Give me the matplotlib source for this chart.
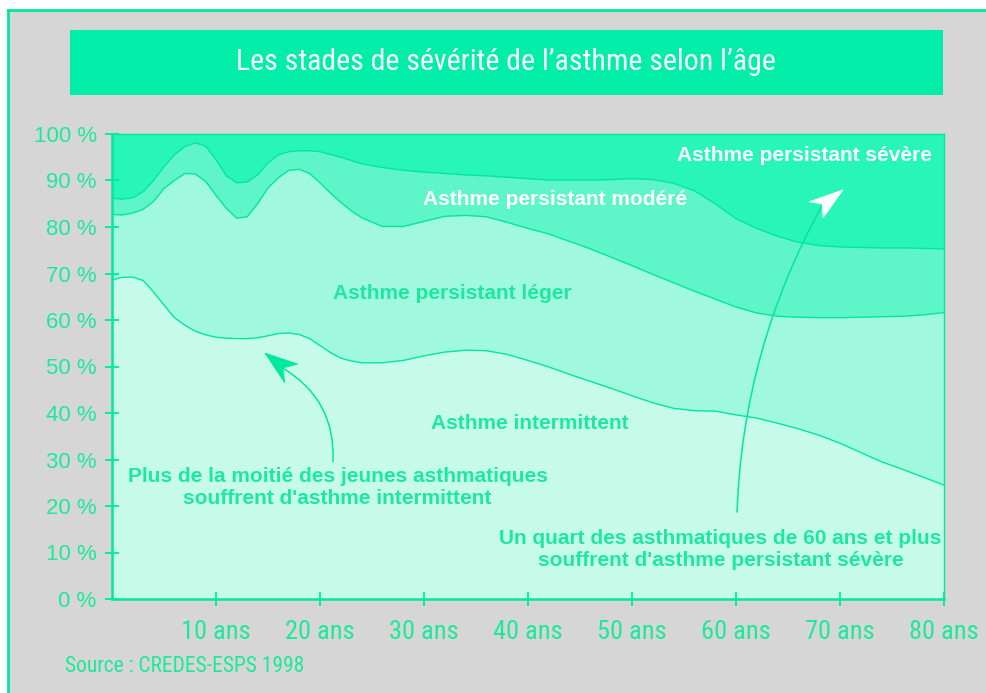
import matplotlib
matplotlib.use('Agg')
import matplotlib.pyplot as plt
import matplotlib.transforms as mtransforms
from matplotlib.patches import Rectangle, FancyArrowPatch, Polygon
from matplotlib.lines import Line2D
from matplotlib import font_manager
import numpy as np

# ---------------- data ----------------
ages = list(range(0, 25, 1)) + list(range(26, 81, 2))
# cumulative upper boundary of each stage (%)
intermittent_top = [68.6, 69.2, 69.2, 68.5, 66.0, 63.2, 60.5, 58.9, 57.6, 56.8,
                    56.3, 56.1, 56.0, 56.0, 56.2, 56.6, 57.1, 57.2, 56.9, 56.0,
                    54.5, 53.0, 51.8, 51.2, 50.8,
                    50.8, 51.3, 52.3, 53.1, 53.5, 53.4, 52.6, 51.3, 49.9, 48.3,
                    46.8, 45.3, 43.7, 42.2, 41.0, 40.5, 40.4, 39.6, 38.9, 37.8,
                    36.6, 35.2, 33.5, 31.5, 29.5, 27.9, 26.2, 24.5]
leger_top = [82.7, 82.6, 83.0, 83.8, 85.5, 88.3, 90.0, 91.5, 91.4, 89.8,
             86.8, 84.0, 81.9, 82.2, 85.0, 88.4, 90.6, 92.2, 92.4, 91.5,
             89.5, 87.3, 85.3, 83.5, 82.0,
             80.1, 80.1, 81.2, 82.3, 82.5, 82.2, 81.0, 79.7, 78.5, 76.9,
             75.3, 73.5, 71.7, 69.8, 68.0, 66.2, 64.5, 62.8, 61.5, 60.8,
             60.6, 60.5, 60.5, 60.6, 60.7, 60.8, 61.1, 61.6]
modere_top = [86.2, 86.0, 86.3, 87.6, 90.0, 93.0, 95.5, 97.3, 98.1, 97.4,
              94.5, 91.0, 89.5, 89.7, 91.2, 93.8, 95.5, 96.2, 96.4, 96.4,
              96.2, 95.6, 95.0, 94.3, 93.6,
              92.8, 92.2, 91.8, 91.5, 91.2, 91.0, 90.7, 90.4, 90.1, 90.1,
              90.1, 90.2, 90.4, 90.2, 89.4, 87.8, 85.0, 81.8, 79.7, 78.0,
              76.7, 76.0, 75.7, 75.6, 75.5, 75.5, 75.4, 75.3]
severe_top = [100.0] * len(ages)

stage_names = ["Asthme intermittent", "Asthme persistant léger",
               "Asthme persistant modéré", "Asthme persistant sévère"]
x_ticks = [10, 20, 30, 40, 50, 60, 70, 80]
x_labels = ["10 ans", "20 ans", "30 ans", "40 ans", "50 ans", "60 ans", "70 ans", "80 ans"]
y_ticks = [0, 10, 20, 30, 40, 50, 60, 70, 80, 90, 100]
y_labels = ["0 %", "10 %", "20 %", "30 %", "40 %", "50 %", "60 %", "70 %", "80 %", "90 %", "100 %"]
title = "Les stades de sévérité de l’asthme selon l’âge"
source = "Source : CREDES-ESPS 1998"
note_young = "Plus de la moitié des jeunes asthmatiques\nsouffrent d'asthme intermittent"
note_old = "Un quart des asthmatiques de 60 ans et plus\nsouffrent d'asthme persistant sévère"

# ---------------- style ----------------
GREEN = '#00E89E'
TEXT_GREEN = '#1DE8A0'
GRAY = '#D6D6D6'
BAND_COLORS = ['#C6FBEA', '#A0F8DE', '#5EF5C8', '#28F5B8']
TITLE_BOX = '#00EEA8'


def pick(names):
    for n in names:
        try:
            font_manager.findfont(font_manager.FontProperties(family=n), fallback_to_default=False)
            return n
        except Exception:
            continue
    return 'DejaVu Sans'

NARROW = pick(['Liberation Sans Narrow', 'Roboto Condensed', 'Open Sans Condensed', 'Liberation Sans'])
ARIAL = pick(['Liberation Sans', 'Arial', 'DejaVu Sans'])

W, H = 987, 693
fig = plt.figure(figsize=(W / 100, H / 100), dpi=100)
fig.patch.set_facecolor('white')

def fx(px):
    return px / W

def fy(py):
    return 1 - py / H

# gray panel with green border lines
fig.add_artist(Rectangle((fx(8), 0), 1, fy(10), transform=fig.transFigure,
                         facecolor=GRAY, edgecolor='none', zorder=0))
fig.add_artist(Line2D([fx(8), 1], [fy(10), fy(10)], transform=fig.transFigure,
                      color=GREEN, lw=2.0, zorder=1))
fig.add_artist(Line2D([fx(8), fx(8)], [0, fy(10)], transform=fig.transFigure,
                      color=GREEN, lw=2.0, zorder=1))
# title box
fig.add_artist(Rectangle((fx(70), fy(95)), fx(943) - fx(70), fy(30) - fy(95),
                         transform=fig.transFigure, facecolor=TITLE_BOX,
                         edgecolor='none', zorder=1))
fig.text(fx(506), fy(62), title, color='white', fontsize=21.5, family=NARROW,
         ha='center', va='center', zorder=2)
fig.text(fx(65), fy(667), source, color=TEXT_GREEN, fontsize=15.5, family=NARROW,
         ha='left', va='center')

# axes
ax = fig.add_axes([fx(112), fy(599), fx(944) - fx(112), fy(134) - fy(599)])
ax.set_xlim(0, 80)
ax.set_ylim(0, 100)
ax.set_facecolor('none')

x = np.array(ages)
levels = [np.zeros(len(ages)), np.array(intermittent_top), np.array(leger_top),
          np.array(modere_top), np.array(severe_top)]
for i in range(4):
    ax.fill_between(x, levels[i], levels[i + 1], facecolor=BAND_COLORS[i],
                    edgecolor='none', zorder=1)
for lv in levels[1:4]:
    ax.plot(x, lv, color=GREEN, lw=1.0, zorder=2)

for s in ['left', 'bottom']:
    ax.spines[s].set_color(GREEN)
    ax.spines[s].set_linewidth(1.8)
for s in ['top', 'right']:
    ax.spines[s].set_color(GREEN)
    ax.spines[s].set_linewidth(1.0)

ax.set_xticks(x_ticks)
ax.set_xticklabels(x_labels, family=NARROW, fontsize=19, color=TEXT_GREEN)
ax.set_yticks(y_ticks)
ax.set_yticklabels(y_labels, family=ARIAL, fontsize=16, color=TEXT_GREEN)
ax.tick_params(axis='both', direction='inout', length=10, width=1.3, color=GREEN)
ax.tick_params(axis='x', pad=10)
ax.tick_params(axis='y', pad=6)

# band labels
lab_kw = dict(fontsize=15, fontweight='bold', family=ARIAL, ha='center', va='center', zorder=5)
ax.text(66.6, 95.3, stage_names[3], color='white', **lab_kw)
ax.text(42.6, 86.0, stage_names[2], color='white', **lab_kw)
ax.text(32.7, 65.8, stage_names[1], color=TEXT_GREEN, **lab_kw)
ax.text(40.2, 37.8, stage_names[0], color=TEXT_GREEN, **lab_kw)
ax.text(21.7, 23.9, note_young, color=TEXT_GREEN, linespacing=1.2, **lab_kw)
ax.text(58.5, 10.6, note_old, color=TEXT_GREEN, linespacing=1.2, **lab_kw)

# arrows
a1 = FancyArrowPatch((21.25, 29.5), (16.4, 49.7), connectionstyle='arc3,rad=0.3',
                     arrowstyle='-', color=GREEN, lw=1.1, shrinkA=0, shrinkB=0, zorder=4)
ax.add_patch(a1)
a2 = FancyArrowPatch((60.1, 18.7), (68.3, 84.7), connectionstyle='arc3,rad=-0.12',
                     arrowstyle='-', color=GREEN, lw=1.1, shrinkA=0, shrinkB=0, zorder=4)
ax.add_patch(a2)

def dart(tip, verts_px, color):
    tr = fig.dpi_scale_trans + mtransforms.ScaledTranslation(tip[0], tip[1], ax.transData)
    pts = [(vx / 100, vy / 100) for vx, vy in verts_px]
    ax.add_patch(Polygon(pts, closed=True, transform=tr, facecolor=color,
                         edgecolor=color, lw=0.5, zorder=6))

dart((14.7, 52.9), [(0, 0), (33, -11), (18, -15), (20, -30)], GREEN)
dart((70.3, 88.0), [(0, 0), (-34, -12), (-21, -14), (-20, -28)], 'white')

fig.savefig('out.png', dpi=100, facecolor=fig.get_facecolor())
